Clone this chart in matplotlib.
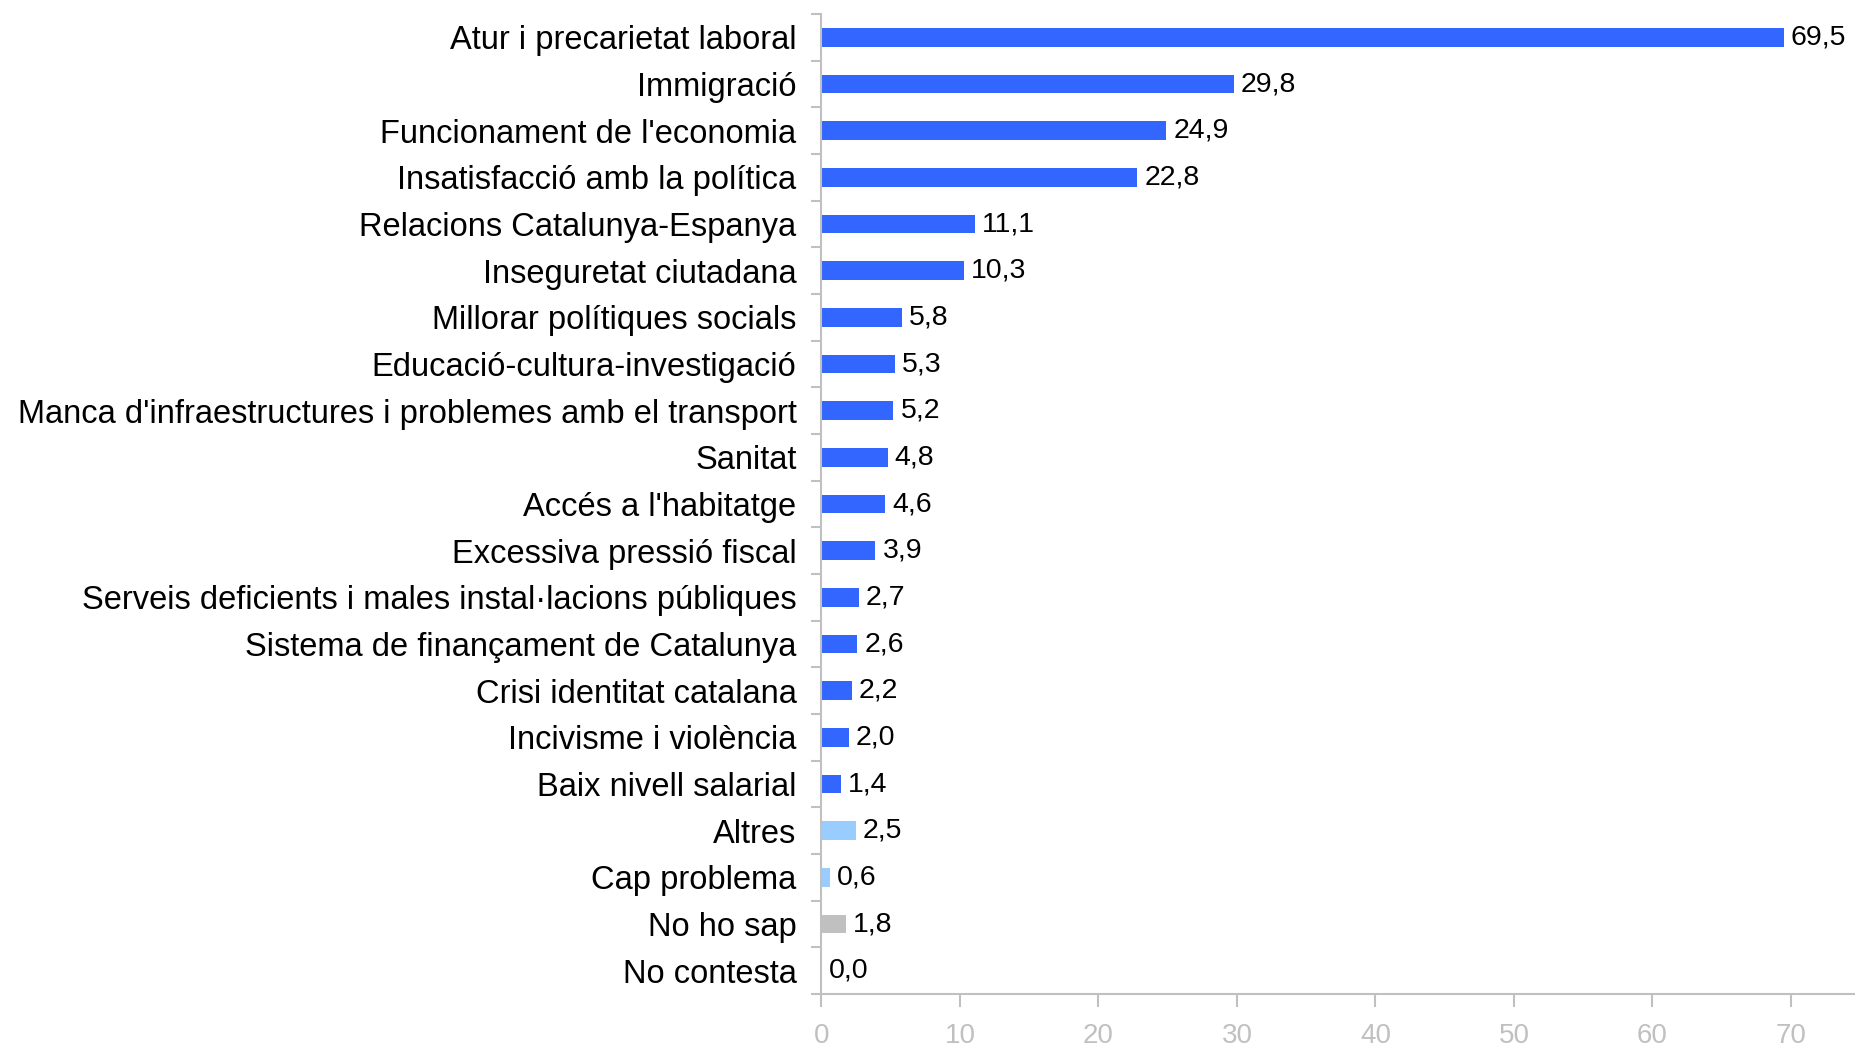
import matplotlib.pyplot as plt
from matplotlib.ticker import MultipleLocator, FixedLocator

categories = [
    "Atur i precarietat laboral",
    "Immigració",
    "Funcionament de l'economia",
    "Insatisfacció amb la política",
    "Relacions Catalunya-Espanya",
    "Inseguretat ciutadana",
    "Millorar polítiques socials",
    "Educació-cultura-investigació",
    "Manca d'infraestructures i problemes amb el transport",
    "Sanitat",
    "Accés a l'habitatge",
    "Excessiva pressió fiscal",
    "Serveis deficients i males instal·lacions públiques",
    "Sistema de finançament de Catalunya",
    "Crisi identitat catalana",
    "Incivisme i violència",
    "Baix nivell salarial",
    "Altres",
    "Cap problema",
    "No ho sap",
    "No contesta",
]
values = [69.5, 29.8, 24.9, 22.8, 11.1, 10.3, 5.8, 5.3, 5.2, 4.8, 4.6, 3.9,
          2.7, 2.6, 2.2, 2.0, 1.4, 2.5, 0.6, 1.8, 0.0]
groups = ["problem"] * 17 + ["other", "other", "nsnc", "nsnc"]

group_colors = {"problem": "#3366FF", "other": "#99CCFF", "nsnc": "#C0C0C0"}
colors = [group_colors[g] for g in groups]

plt.rcParams['font.family'] = ['Liberation Sans', 'DejaVu Sans']

fig = plt.figure(figsize=(18.56, 10.47), dpi=100)
ax = fig.add_axes([0.4426, 0.0506, 0.5574, 0.936])

y = list(range(len(categories)))
ax.barh(y, values, height=0.4, color=colors)

# value labels with comma decimal separator
for yi, v in zip(y, values):
    ax.text(v + 0.5, yi, f"{v:.1f}".replace('.', ','), va='center', ha='left',
            fontsize=20.5, color='black')

ax.set_ylim(len(categories) - 0.5, -0.5)
ax.set_xlim(0, 74.7)

ax.set_yticks(y)
ax.set_yticklabels(categories, fontsize=23.5)
ax.yaxis.set_minor_locator(FixedLocator([i - 0.5 for i in range(len(categories) + 1)]))
ax.tick_params(axis='y', which='major', length=0, pad=18)
ax.tick_params(axis='y', which='minor', length=7, color='#C0C0C0', width=1.5)

ax.xaxis.set_major_locator(MultipleLocator(10))
ax.tick_params(axis='x', which='major', length=9, color='#C0C0C0', width=1.5,
               labelcolor='#C0C0C0', labelsize=20, pad=12)

for side in ['top', 'right']:
    ax.spines[side].set_visible(False)
for side in ['left', 'bottom']:
    ax.spines[side].set_color('#C0C0C0')
    ax.spines[side].set_linewidth(1.5)

plt.savefig('out.png', dpi=100)
